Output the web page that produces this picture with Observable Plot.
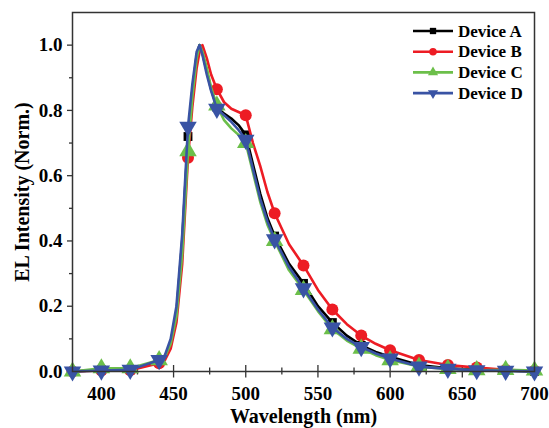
<!DOCTYPE html>
<html>
<head>
<meta charset="utf-8">
<script src="https://cdn.jsdelivr.net/npm/d3@7"></script>
<script src="https://cdn.jsdelivr.net/npm/@observablehq/plot@0.6"></script>
<style>
  html, body { margin: 0; padding: 0; background: #fff; }
  #chart { position: relative; width: 549px; height: 428px; }
</style>
</head>
<body>
<div id="chart"></div>
<script>
// Wavelength samples (nm) of the EL spectra
const wavelengths = [380,400,420,440,444,448,452,456,460,463,466,468,470,473,476,480,485,490,495,500,505,510,515,520,530,540,550,560,570,580,590,600,620,640,660,680,700];
const deviceA = [0,0.005,0.005,0.03,0.045,0.09,0.18,0.40,0.72,0.86,0.97,1.0,0.975,0.92,0.865,0.81,0.79,0.775,0.755,0.725,0.635,0.545,0.47,0.415,0.33,0.27,0.20,0.15,0.11,0.08,0.06,0.045,0.02,0.01,0.005,0.003,0];
const deviceB = [0,0.003,0.004,0.025,0.035,0.07,0.15,0.33,0.655,0.81,0.93,0.98,1.0,0.96,0.91,0.865,0.825,0.805,0.795,0.785,0.70,0.63,0.55,0.485,0.39,0.325,0.25,0.19,0.145,0.11,0.085,0.065,0.035,0.02,0.012,0.005,0.002];
const deviceC = [0,0.01,0.01,0.035,0.045,0.085,0.17,0.36,0.675,0.84,0.96,1.0,0.98,0.93,0.87,0.815,0.77,0.745,0.725,0.70,0.61,0.52,0.45,0.40,0.31,0.25,0.185,0.13,0.095,0.07,0.05,0.035,0.015,0.008,0.004,0.005,0.003];
const deviceD = [0,0.003,0.005,0.035,0.05,0.10,0.20,0.42,0.75,0.88,0.98,1.0,0.97,0.91,0.86,0.805,0.785,0.765,0.74,0.71,0.62,0.53,0.46,0.405,0.32,0.255,0.19,0.135,0.10,0.075,0.055,0.04,0.015,0.008,0.004,0.002,0];
const markerWavelengths = [380,400,420,440,460,480,500,520,540,560,580,600,620,640,660,680,700];

const seriesNames = ["Device A","Device B","Device C","Device D"];
const seriesValues = [deviceA, deviceB, deviceC, deviceD];
const seriesColors = ["#000000","#ed1c24","#6cbf4a","#3953a4"];
const seriesSymbols = ["square","circle","triangle","triangle"];
const seriesRotate = [0,0,0,180];
const seriesR = [5,6,6.5,6.5];

const xMajorTicks = [400,450,500,550,600,650,700];
const xMinorTicks = [425,475,525,575,625,675];
const yMajorTicks = [0,0.2,0.4,0.6,0.8,1.0];
const yMinorTicks = [0.1,0.3,0.5,0.7,0.9];

const W = 549, H = 428, mL = 72, mR = 15, mT = 12, mB = 57;
const innerH = H - mT - mB;
const FONT = "'Liberation Serif', 'Times New Roman', 'DejaVu Serif', serif";

const series = seriesNames.map((name, i) => ({
  name, color: seriesColors[i], symbol: seriesSymbols[i], rotate: seriesRotate[i], r: seriesR[i],
  rows: wavelengths.map((w, j) => ({w, v: seriesValues[i][j]}))
}));

const seriesMarks = series.flatMap(s => [
  Plot.line(s.rows, {x: "w", y: "v", stroke: s.color, strokeWidth: 2.6}),
  Plot.dot(s.rows.filter(d => markerWavelengths.includes(d.w)), {x: "w", y: "v", symbol: () => s.symbol, fill: s.color, stroke: "none", r: s.r, rotate: s.rotate})
]);

const chart = Plot.plot({
  width: W, height: H,
  marginLeft: mL, marginRight: mR, marginTop: mT, marginBottom: mB,
  x: {domain: [380, 700]},
  y: {domain: [0, 1.1]},
  symbol: {type: "identity"},
  style: {fontFamily: FONT, fontWeight: "bold", fontSize: "19px", background: "#fff", color: "#000"},
  marks: [
    Plot.axisX({ticks: xMajorTicks, tickSize: 6.5, tickPadding: 8, tickFormat: d => d, label: null, fontSize: 19, stroke: "#333", strokeWidth: 1.3}),
    Plot.axisX({ticks: xMinorTicks, tickSize: 3.5, text: null, label: null, stroke: "#333", strokeWidth: 1.3}),
    Plot.ruleX(xMajorTicks, {stroke: "#333", strokeWidth: 1.3, insetTop: innerH - 6}),
    Plot.ruleX(xMinorTicks, {stroke: "#333", strokeWidth: 1.3, insetTop: innerH - 3.5}),
    Plot.axisY({ticks: yMajorTicks, tickSize: 5, tickPadding: 5, tickFormat: d3.format(".1f"), label: null, stroke: "#333", strokeWidth: 1.3, fontSize: 19}),
    Plot.axisY({ticks: yMinorTicks, tickSize: 3, text: null, label: null, stroke: "#333", strokeWidth: 1.3}),
    Plot.text(["Wavelength (nm)"], {frameAnchor: "bottom", lineAnchor: "middle", textAnchor: "middle", dy: 45.5, fontSize: 20, fontWeight: "bold", fill: "#000"}),
    Plot.text(["EL Intensity (Norm.)"], {frameAnchor: "left", lineAnchor: "middle", textAnchor: "middle", rotate: -90, dx: -49.5, fontSize: 20, fontWeight: "bold", fill: "#000"}),
    ...seriesMarks,
    Plot.frame({stroke: "#333", strokeWidth: 1.5})
  ]
});

// Legend inside the plot (top right)
const svg = d3.select(chart);
const lg = svg.append("g")
  .attr("font-family", FONT).attr("font-weight", "bold").attr("font-size", 17)
  .attr("text-anchor", "start");
const symMap = {square: d3.symbolSquare, circle: d3.symbolCircle, triangle: d3.symbolTriangle};
const legendSymArea = {square: 40, circle: 45, triangle: 45};
series.forEach((s, i) => {
  const y = 31 + i * 20.7;
  const g = lg.append("g").attr("transform", `translate(0,${y})`);
  g.append("line").attr("x1", 413).attr("x2", 453).attr("y1", 0).attr("y2", 0).attr("stroke", s.color).attr("stroke-width", 2.6);
  g.append("path").attr("d", d3.symbol(symMap[s.symbol], legendSymArea[s.symbol])()).attr("transform", `translate(433,0) rotate(${s.rotate})`).attr("fill", s.color);
  g.append("text").attr("x", 458).attr("y", 0).attr("dy", "0.34em").attr("fill", "#000").text(s.name);
});

document.getElementById("chart").appendChild(chart);
</script>
</body>
</html>
